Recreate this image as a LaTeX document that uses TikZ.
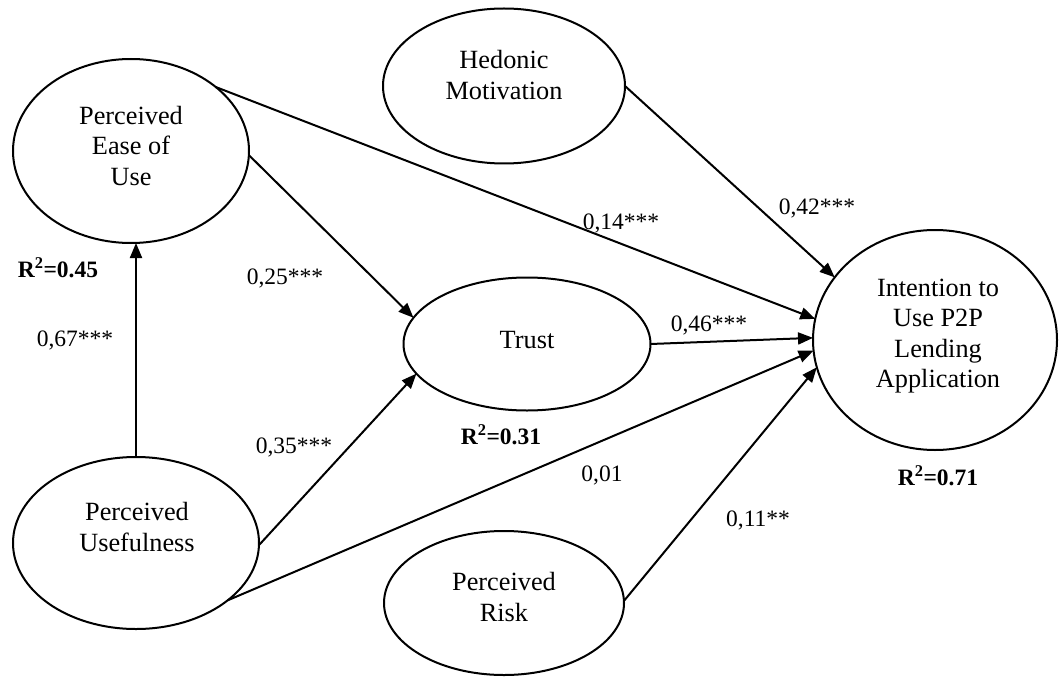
\documentclass[tikz,border=0pt]{standalone}
\usepackage{fontspec}
\setmainfont{Liberation Serif}
\usetikzlibrary{arrows.meta,shapes.geometric}
\begin{document}
\begin{tikzpicture}[x=1pt,y=-1pt,
  lat/.style={draw, ellipse, line width=2pt, inner sep=0pt, outer sep=0pt},
  txt/.style={align=center, font=\fontsize{26.3pt}{30.5pt}\selectfont, inner sep=0pt},
  coef/.style={font=\fontsize{23.5pt}{28pt}\selectfont, inner sep=0pt},
  rsq/.style={font=\fontsize{23.5pt}{28pt}\selectfont\bfseries, inner sep=0pt},
  arr/.style={line width=2pt, -{Triangle[length=15pt,width=12pt]}}]
\useasboundingbox (0,0) rectangle (1059,679);
% latent variables
\node[lat, minimum width=236pt, minimum height=184pt] (peu) at (131,151) {};
\node[lat, minimum width=242pt, minimum height=155pt] (hed) at (504,86) {};
\node[lat, minimum width=247pt, minimum height=133pt] (trust) at (527,344) {};
\node[lat, minimum width=244pt, minimum height=220pt] (int) at (935,340) {};
\node[lat, minimum width=246pt, minimum height=172pt] (pu) at (136,543) {};
\node[lat, minimum width=240pt, minimum height=144pt] (risk) at (504,603) {};
% texts
\node[txt] (peut) at (131,146) {Perceived\\Ease of\\Use};
\node[txt] (hedt) at (504,75) {Hedonic\\Motivation};
\node[txt] (trustt) at (527,340) {Trust};
\node[txt] (intt) at (938,336) {Intention to\\Use P2P\\Lending\\Application};
\node[txt] (put) at (137,527) {Perceived\\Usefulness};
\node[txt] (riskt) at (504,597) {Perceived\\Risk};
% connectors
\draw[arr] (pu.north) -- (pu.north |- peu.south);
\draw[arr] (peu.-2) -- (trust.167);
\draw[arr] (peu.37) -- (int.170);
\draw[arr] (hed.0) -- (int.148);
\draw[arr] (trust.0) -- (int.179);
\draw[arr] (pu.-1) -- (trust.195);
\draw[arr] (pu.-32) -- (int.185);
\draw[arr] (risk.1) -- (int.193);
% coefficients
\node[rsq] (r1) at (58,268) {R\textsuperscript{2}=0.45};
\node[coef] (c25) at (285,278) {0,25***};
\node[coef] (c67) at (75,340) {0,67***};
\node[coef] (c35) at (294,447) {0,35***};
\node[rsq] (r2) at (501,435) {R\textsuperscript{2}=0.31};
\node[coef] (c46) at (709,325) {0,46***};
\node[coef] (c14) at (621,223) {0,14***};
\node[coef] (c42) at (817,208) {0,42***};
\node[coef] (c01) at (602,475) {0,01};
\node[coef] (c11) at (758,520) {0,11**};
\node[rsq] (r3) at (938,476) {R\textsuperscript{2}=0.71};
\end{tikzpicture}
\end{document}
